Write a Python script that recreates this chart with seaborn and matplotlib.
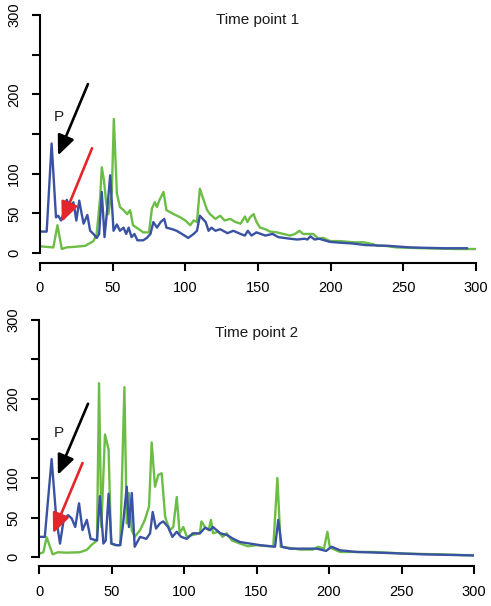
import numpy as np
import pandas as pd
import matplotlib
matplotlib.use("Agg")
import matplotlib.pyplot as plt
import seaborn as sns

# ---------------- data ----------------
top_blue_x = [0, 4.6, 8, 11, 12.5, 14.5, 16, 18.4, 20.7, 23, 25, 27, 28.7, 30, 32.6, 34.5, 36.8, 39, 40.7, 42.5,
              44.4, 46.4, 48.3, 50.6, 52.9, 55, 57.5, 59.3, 61, 63, 65, 67, 71, 73.5, 76, 78, 80.5, 83, 85.5, 87,
              91, 94, 97.7, 102, 105.7, 108, 110, 114, 116, 118, 120.7, 124, 129, 133, 138, 141, 143, 145.5, 149,
              152, 155, 160, 164, 168, 172, 177, 182, 184, 186, 189, 192, 199.6, 206.5, 215, 224, 240, 255, 278, 294]
top_blue_y = [27, 27, 138, 45, 47, 41, 49, 67, 58, 64, 41, 66, 49, 37, 48, 28, 24, 19, 24, 77,
              20, 58, 98, 28, 36, 28, 32, 24, 32, 20, 24, 16, 16, 19, 24, 39, 32, 39, 43, 32,
              30, 28, 24, 19, 24, 28, 47, 39, 28, 32, 28, 30, 25, 28, 24, 22, 28, 22, 26,
              24, 22, 24, 20, 19, 18, 17, 18, 17, 21, 17, 18, 14, 13, 12, 10, 9, 7, 6, 6]

top_green_x = [0, 9.2, 12, 15, 18, 25, 31, 36.8, 39, 41.4, 42.5, 44, 45.5, 47, 49.4, 50.8, 52.9, 55, 57.5, 60,
               62, 64, 68, 71, 75, 77, 79, 80.5, 82, 85, 87, 92, 96.5, 100, 103.4, 105.7, 108, 110, 112, 115,
               117, 120.7, 124, 127, 131, 134.5, 138, 141, 142.7, 144.5, 147, 149, 151.4, 155, 158.3, 163, 167.5,
               172, 175.5, 178.5, 181, 184.6, 188, 191.6, 195, 199.6, 206.5, 215.7, 222.6, 229.4, 232, 237.5,
               245.5, 263.9, 286.8, 300]
top_green_y = [8.4, 7, 35, 5, 7, 8, 9, 15, 24, 70, 108, 92, 64, 49, 77, 169, 75, 58, 54, 49,
               54, 35, 30, 26, 26, 56, 64, 58, 66, 77, 54, 49, 45, 41, 35, 41, 39, 81, 70, 54,
               49, 43, 47, 41, 43, 39, 37, 46, 39, 45, 49, 39, 32, 30, 27, 26, 24,
               22, 24, 28, 24, 24, 24, 18, 19, 15, 15, 13.5, 13.5, 11, 9, 9,
               7, 6, 5, 5]

bottom_blue_x = [0, 4, 8.7, 12, 14.5, 17, 20, 22.5, 25, 27.6, 30, 33, 35.6, 40, 42, 44.4, 46, 48, 50, 53.6,
                 56, 58, 60.5, 62, 64, 66, 69.7, 74, 76.6, 78.4, 80.7, 83.4, 85.7, 89, 92, 95, 98, 102, 106,
                 111, 114.5, 118, 120, 125, 129.4, 134, 138.6, 145.5, 152.4, 162.8, 165, 167.4, 173, 184.6,
                 191.5, 198, 201.8, 207.6, 219, 242, 265, 300]
bottom_blue_y = [25.5, 25.5, 124, 47, 17, 47, 53, 49, 38, 68, 34, 47, 23, 21, 77, 17, 21, 80, 17, 15,
                 15, 42, 89, 38, 81, 13, 25.5, 23, 30, 57, 36, 42.5, 45, 38, 25.5, 32, 25.5, 23, 30,
                 30, 37, 34, 38, 30, 28, 23, 19, 17, 15, 13, 47, 13, 10.6, 10.6,
                 10.6, 7.7, 13, 8.5, 6.4, 5, 3.4, 2]

bottom_green_x = [0, 3, 5.3, 9.4, 13, 19, 28, 33, 36, 40, 41.4, 43, 45.5, 48, 49.7, 52.4, 56, 58.9, 60.5, 62,
                  64, 66, 69.7, 73, 75.9, 77.7, 80, 82.3, 84.6, 87, 88, 90.3, 92.6, 95, 97, 99.5, 102, 106, 111,
                  112, 114.5, 117, 118.6, 120, 123.7, 126.7, 129.4, 133, 138.6, 144, 150, 156, 161.6, 164.4,
                  166.7, 170.8, 180, 189, 192.6, 196.5, 198.9, 200.6, 207.6, 230.6, 253, 276, 300]
bottom_green_y = [4, 6, 25, 3.4, 6, 5.5, 6, 9, 15, 21, 220, 38, 155, 136, 17, 15, 15, 215, 42.5, 81,
                  34, 25.5, 34, 47, 64, 145, 89, 104, 106, 51, 45, 34, 38, 76, 30, 38, 25.5, 28, 30,
                  45, 38, 34, 47, 30, 32, 25.5, 30, 21, 17, 13.6, 15, 14, 13.6, 100,
                  13, 12, 9.4, 9.4, 13, 10.6, 32, 12, 6.4, 6.4, 4.3, 3.4, 2]

titles = ["Time point 1", "Time point 2"]
x_ticks = [0, 50, 100, 150, 200, 250, 300]
y_ticks = [0, 50, 100, 200, 300]
y_tick_labels = ["0", "50", "100", "200", "300"]
y_minor_ticks = [150, 250]

# annotations: (tail, head) in data coords per panel
black_arrows = [((33, 213), (12.4, 123)), ((33.8, 194), (13, 104))]
red_arrows = [((35.8, 132), (15, 39)), ((30, 119), (9.7, 30))]
p_labels = [(13, 171), (14, 157)]

# ---------------- style ----------------
sns.set_style("ticks")
plt.rcParams["font.family"] = ["Liberation Sans", "DejaVu Sans"]

BLUE = "#3a52a3"
GREEN = "#6cbd45"
RED = "#e3262b"

fig = plt.figure(figsize=(4.91, 6.06), dpi=100)
ax_top = fig.add_axes([40 / 491, 0.5668, 436 / 491, 0.4241])
ax_bot = fig.add_axes([39 / 491, 0.0652, 435 / 491, 0.4224])

panels = [
    (ax_top, top_blue_x, top_blue_y, top_green_x, top_green_y),
    (ax_bot, bottom_blue_x, bottom_blue_y, bottom_green_x, bottom_green_y),
]

for i, (ax, bx, by, gx, gy) in enumerate(panels):
    dfb = pd.DataFrame({"x": bx, "y": by})
    dfg = pd.DataFrame({"x": gx, "y": gy})
    sns.lineplot(data=dfg, x="x", y="y", ax=ax, color=GREEN, lw=1.7, sort=False)
    sns.lineplot(data=dfb, x="x", y="y", ax=ax, color=BLUE, lw=1.7, sort=False)
    ax.set_xlim(0, 300)
    ax.set_ylim(-12, 312)
    ax.set_xlabel("")
    ax.set_ylabel("")
    for s in ["top", "right"]:
        ax.spines[s].set_visible(False)
    ax.spines["left"].set_bounds(0, 300)
    ax.spines["bottom"].set_bounds(0, 300)
    for s in ["left", "bottom"]:
        ax.spines[s].set_linewidth(1.5)
        ax.spines[s].set_color("black")
    ax.set_xticks(x_ticks)
    ax.set_yticks(y_ticks + y_minor_ticks)
    ax.set_yticklabels(y_tick_labels + ["", ""])
    ax.tick_params(axis="both", direction="out", length=5.5, width=1.5, color="black",
                   labelsize=10.5, labelcolor="black")
    ax.tick_params(axis="x", pad=8)
    ax.tick_params(axis="y", pad=8)
    for lab in ax.get_yticklabels():
        lab.set_rotation(90)
        lab.set_va("center")
    ax.text(150, 294 if i == 0 else 284, titles[i], ha="center", va="center",
            fontsize=11, color="#1a1a1a")
    ax.text(p_labels[i][0], p_labels[i][1], "P", ha="center", va="center",
            fontsize=11, color="#1a1a1a")
    for arrows, col in ((black_arrows, "black"), (red_arrows, RED)):
        tail, head = arrows[i]
        ax.annotate("", xy=head, xytext=tail,
                    arrowprops=dict(arrowstyle="-|>,head_length=0.6,head_width=0.26",
                                    mutation_scale=20, color=col, lw=1.9,
                                    shrinkA=0, shrinkB=0))
    ax.set_facecolor("white")

fig.savefig("out.png", dpi=100, facecolor="white")
